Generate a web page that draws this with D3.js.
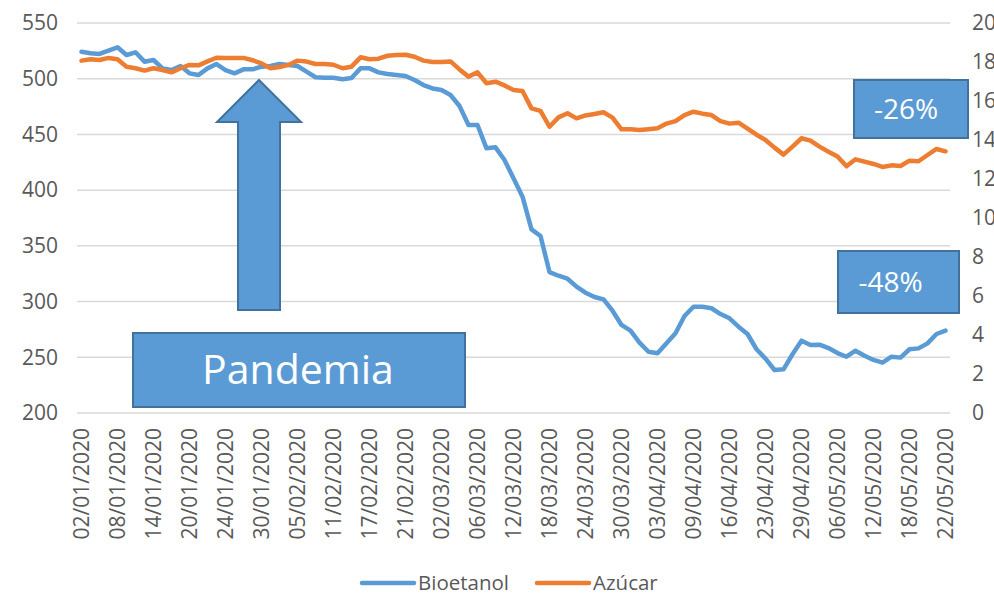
<html>

<head>
    <style>
        body {
            margin: 0;
            background: #FFFFFF;
        }
        text {
            font-family: "Open Sans", "Noto Sans", sans-serif;
            fill: #595959;
        }
        .box-label {
            fill: #FFFFFF;
        }
    </style>
</head>

<body>
    <svg id="container" width="994" height="594"></svg>
</body>

<script src="https://cdn.jsdelivr.net/npm/d3@7"></script>
<script>
    // trading days (Brasil, sin carnaval / feriados)
    let dates = [
        "02/01/2020","03/01/2020","06/01/2020","07/01/2020","08/01/2020","09/01/2020","10/01/2020","13/01/2020","14/01/2020","15/01/2020",
        "16/01/2020","17/01/2020","20/01/2020","21/01/2020","22/01/2020","23/01/2020","24/01/2020","27/01/2020","28/01/2020","29/01/2020",
        "30/01/2020","31/01/2020","03/02/2020","04/02/2020","05/02/2020","06/02/2020","07/02/2020","10/02/2020","11/02/2020","12/02/2020",
        "13/02/2020","14/02/2020","17/02/2020","18/02/2020","19/02/2020","20/02/2020","21/02/2020","26/02/2020","27/02/2020","28/02/2020",
        "02/03/2020","03/03/2020","04/03/2020","05/03/2020","06/03/2020","09/03/2020","10/03/2020","11/03/2020","12/03/2020","13/03/2020",
        "16/03/2020","17/03/2020","18/03/2020","19/03/2020","20/03/2020","23/03/2020","24/03/2020","25/03/2020","26/03/2020","27/03/2020",
        "30/03/2020","31/03/2020","01/04/2020","02/04/2020","03/04/2020","06/04/2020","07/04/2020","08/04/2020","09/04/2020","13/04/2020",
        "14/04/2020","15/04/2020","16/04/2020","17/04/2020","20/04/2020","22/04/2020","23/04/2020","24/04/2020","27/04/2020","28/04/2020",
        "29/04/2020","30/04/2020","04/05/2020","05/05/2020","06/05/2020","07/05/2020","08/05/2020","11/05/2020","12/05/2020","13/05/2020",
        "14/05/2020","15/05/2020","18/05/2020","19/05/2020","20/05/2020","21/05/2020","22/05/2020"
    ]

    let tickDates = [
        "02/01/2020","08/01/2020","14/01/2020","20/01/2020","24/01/2020","30/01/2020","05/02/2020","11/02/2020","17/02/2020",
        "21/02/2020","02/03/2020","06/03/2020","12/03/2020","18/03/2020","24/03/2020","30/03/2020","03/04/2020","09/04/2020",
        "16/04/2020","23/04/2020","29/04/2020","06/05/2020","12/05/2020","18/05/2020","22/05/2020"
    ]

    // left axis
    let bioetanol = [
        524.2,522.8,522.2,525.2,528.2,521.3,523.7,515.3,516.8,509.3,
        507.8,511.4,504.8,503.3,509.3,513.2,507.8,504.8,508.4,508.4,
        510.8,511.4,513.2,512.3,511.4,506.3,501.3,500.9,500.9,499.5,
        500.6,509.3,509.3,505.7,504.2,503.3,502.4,498.8,494.3,491.3,
        489.9,485.4,475.5,458.5,458.5,437.5,438.4,427.0,410.6,394.1,
        364.8,358.8,326.5,323.2,320.5,313.4,308.0,304.1,302.0,291.8,
        279.0,273.9,263.1,255.0,253.6,262.6,271.5,287.0,295.4,295.4,
        294.0,288.8,285.0,277.5,270.9,257.2,248.8,238.6,239.2,252.7,
        264.9,261.0,261.3,258.3,253.8,250.5,255.9,251.4,247.6,245.2,
        250.5,249.7,257.2,258.0,262.5,270.9,273.9
    ]

    // right axis
    let azucar = [
        18.07,18.14,18.10,18.21,18.14,17.76,17.68,17.56,17.68,17.59,
        17.47,17.68,17.85,17.83,18.03,18.22,18.21,18.21,18.21,18.09,
        17.93,17.68,17.74,17.85,18.07,18.02,17.90,17.90,17.86,17.68,
        17.76,18.24,18.14,18.17,18.32,18.36,18.37,18.27,18.07,18.00,
        18.00,18.03,17.62,17.25,17.47,16.91,16.99,16.80,16.56,16.51,
        15.62,15.49,14.68,15.16,15.37,15.11,15.26,15.33,15.42,15.15,
        14.55,14.55,14.51,14.55,14.60,14.84,14.97,15.28,15.45,15.35,
        15.28,14.97,14.84,14.89,14.58,14.27,14.00,13.61,13.25,13.66,
        14.09,13.97,13.66,13.40,13.15,12.65,13.01,12.89,12.77,12.62,
        12.70,12.67,12.94,12.91,13.23,13.54,13.42
    ]

    let leftTicks = [200, 250, 300, 350, 400, 450, 500, 550]
    let rightTicks = [0, 2, 4, 6, 8, 10, 12, 14, 16, 18, 20]

    let svg = d3.select("#container")

    let plotLeft = 77
    let plotRight = 950
    let plotTop = 23
    let plotBottom = 413

    let x = d3.scalePoint()
        .domain(dates)
        .range([plotLeft, plotRight])
        .padding(0.5)

    let yLeft = d3.scaleLinear()
        .domain([200, 550])
        .range([plotBottom, plotTop])

    let yRight = d3.scaleLinear()
        .domain([0, 20])
        .range([plotBottom, plotTop])

    // gridlines
    svg.append("g")
        .selectAll("line")
        .data(leftTicks)
        .enter()
        .append("line")
        .attr("x1", plotLeft)
        .attr("x2", plotRight)
        .attr("y1", d => yLeft(d))
        .attr("y2", d => yLeft(d))
        .attr("stroke", "#D9D9D9")
        .attr("stroke-width", 1.5)

    // left axis labels
    let leftAxis = svg.append("g")
        .attr("transform", "translate(58,0)")
        .call(d3.axisLeft(yLeft).tickValues(leftTicks).tickSize(0).tickPadding(0))
    leftAxis.select(".domain").remove()
    leftAxis.selectAll("text")
        .style("font-size", "21px")
        .attr("fill", "#595959")

    // right axis labels (cut by the edge, like the original)
    let rightAxis = svg.append("g")
        .attr("transform", "translate(972,0)")
        .call(d3.axisRight(yRight).tickValues(rightTicks).tickSize(0).tickPadding(0))
    rightAxis.select(".domain").remove()
    rightAxis.selectAll("text")
        .style("font-size", "21px")
        .attr("fill", "#595959")

    // date labels, rotated
    let bottomAxis = svg.append("g")
        .attr("transform", "translate(0,428)")
        .call(d3.axisBottom(x).tickValues(tickDates).tickSize(0).tickPadding(0))
    bottomAxis.select(".domain").remove()
    bottomAxis.selectAll("text")
        .style("font-size", "21px")
        .attr("fill", "#595959")
        .attr("text-anchor", "end")
        .attr("transform", "rotate(-90)")
        .attr("x", 0)
        .attr("y", 0)
        .attr("dy", "0.35em")

    // lines
    let lineLeft = d3.line()
        .x((d, i) => x(dates[i]))
        .y(d => yLeft(d))

    let lineRight = d3.line()
        .x((d, i) => x(dates[i]))
        .y(d => yRight(d))

    svg.append("path")
        .datum(bioetanol)
        .attr("d", lineLeft)
        .attr("fill", "none")
        .attr("stroke", "#5B9BD5")
        .attr("stroke-width", 4.5)
        .attr("stroke-linejoin", "round")
        .attr("stroke-linecap", "round")

    svg.append("path")
        .datum(azucar)
        .attr("d", lineRight)
        .attr("fill", "none")
        .attr("stroke", "#ED7D31")
        .attr("stroke-width", 4.5)
        .attr("stroke-linejoin", "round")
        .attr("stroke-linecap", "round")

    // annotations
    let shapeFill = "#5B9BD5"
    let shapeStroke = "#41719C"

    // up arrow
    svg.append("polygon")
        .attr("points", "259,80 301,122 280,122 280,310 238,310 238,122 217,122")
        .attr("fill", shapeFill)
        .attr("stroke", shapeStroke)
        .attr("stroke-width", 2)

    function addBox(bx, by, bw, bh, label, size, dx) {
        svg.append("rect")
            .attr("x", bx)
            .attr("y", by)
            .attr("width", bw)
            .attr("height", bh)
            .attr("fill", shapeFill)
            .attr("stroke", shapeStroke)
            .attr("stroke-width", 2)
        svg.append("text")
            .attr("class", "box-label")
            .attr("x", bx + bw / 2 + dx)
            .attr("y", by + bh / 2)
            .attr("dy", "0.35em")
            .attr("text-anchor", "middle")
            .style("font-size", size + "px")
            .style("fill", "#FFFFFF")
            .text(label)
    }

    addBox(133, 333, 332, 74, "Pandemia", 41, -1)
    addBox(854, 80, 114, 58, "-26%", 28, -5)
    addBox(838, 251, 121, 62, "-48%", 28, -8)

    // legend
    let legend = svg.append("g")
    let items = [
        {name: "Bioetanol", color: "#5B9BD5", x: 362},
        {name: "Azúcar", color: "#ED7D31", x: 537}
    ]
    items.forEach(d => {
        legend.append("line")
            .attr("x1", d.x)
            .attr("x2", d.x + 52)
            .attr("y1", 583)
            .attr("y2", 583)
            .attr("stroke", d.color)
            .attr("stroke-width", 4.5)
            .attr("stroke-linecap", "round")
        legend.append("text")
            .attr("x", d.x + 56)
            .attr("y", 583)
            .attr("dy", "0.35em")
            .style("font-size", "20.5px")
            .text(d.name)
    })
</script>

</html>
